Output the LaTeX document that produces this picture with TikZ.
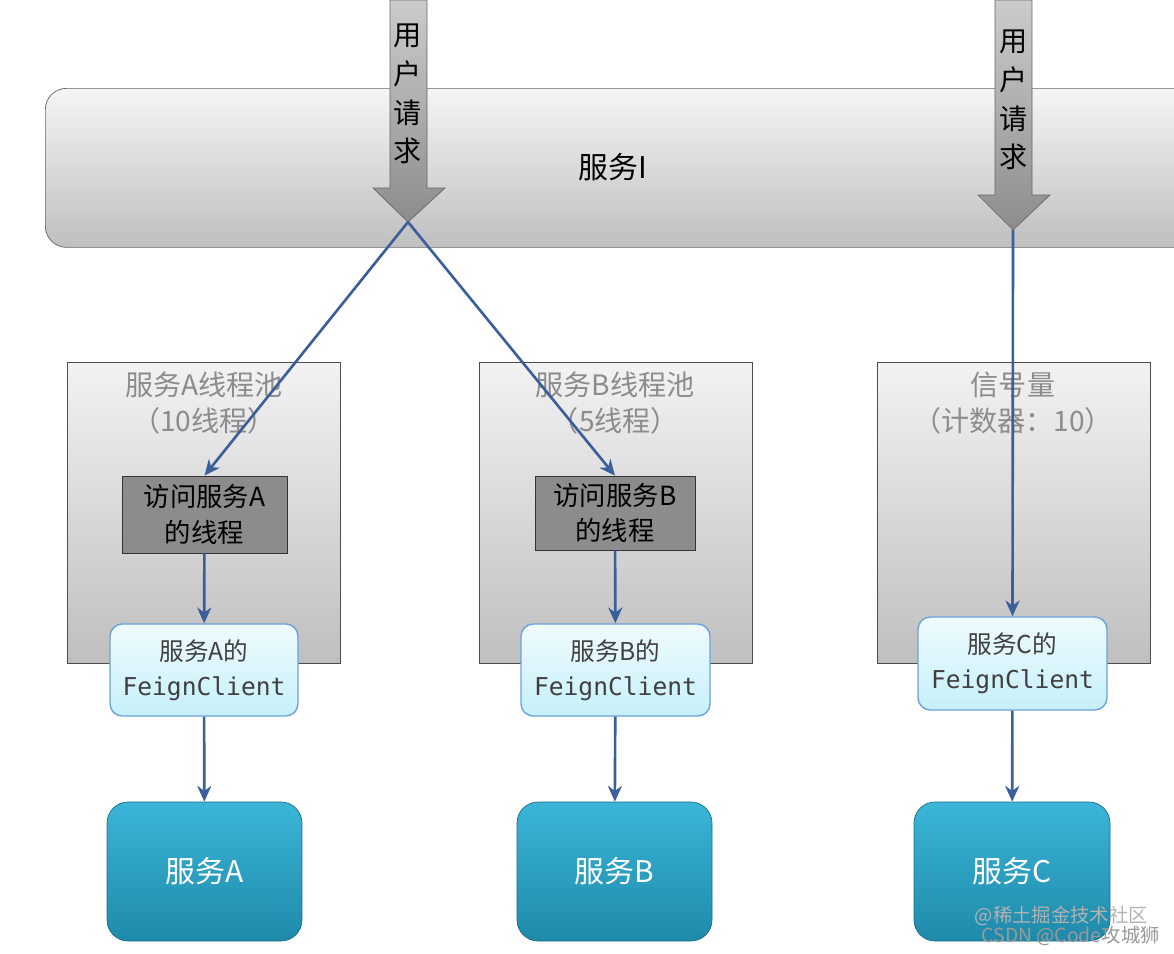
\documentclass[tikz,border=0pt]{standalone}
\usepackage{fontspec}
\setmainfont{Noto Sans CJK SC}
\newfontfamily\monof{DejaVu Sans Mono}
\usetikzlibrary{arrows.meta}
\definecolor{ln}{HTML}{3A5F9A}
\definecolor{tealA}{HTML}{3BB5D8}
\definecolor{tealB}{HTML}{1E8AAA}
\definecolor{fcA}{HTML}{EFFBFE}
\definecolor{fcB}{HTML}{C6F0FA}
\begin{document}
\begin{tikzpicture}[x=0.02cm,y=-0.02cm,
 pool/.style={draw=black!70,top color=black!5,bottom color=black!25},
 thr/.style={draw=black!80,fill=black!45,inner sep=0},
 feign/.style={draw=cyan!60!blue!60,rounded corners=7pt,top color=fcA,bottom color=fcB,line width=0.8pt},
 svc/.style={rounded corners=12pt,top color=tealA,bottom color=tealB,draw=tealB!80!black},
 conn/.style={draw=ln,line width=1.5pt,-{Stealth[length=9pt,width=8pt]}},
 bigarr/.style={draw=black!60,top color=black!20,bottom color=black!45}]
\useasboundingbox (0,0) rectangle (1174,954);
\begin{scope}
\clip (0,0) rectangle (1174,954);
\node[draw=black!60,rounded corners=12pt,top color=black!4,bottom color=black!25,minimum width=1200*0.02cm,minimum height=159*0.02cm,anchor=north west,inner sep=0] (bar) at (45,88) {};
\end{scope}
\node[font=\fontsize{17}{20}\selectfont] (barT) at (613,167) {服务I};
% pools
\foreach \n/\x in {pA/67,pB/479,pC/877}{
 \node[pool,anchor=north west,minimum width=273*0.02cm,minimum height=301*0.02cm,inner sep=0] (\n) at (\x,362) {};}
\node[text=black!45,align=center,font=\fontsize{16}{21}\selectfont] (tA) at (204,403) {服务A线程池\\（10线程）};
\node[text=black!45,align=center,font=\fontsize{16}{21}\selectfont] (tB) at (615,403) {服务B线程池\\（5线程）};
\node[text=black!45,align=center,font=\fontsize{16}{21}\selectfont] (tC) at (1013,403) {信号量\\（计数器：10）};
% threads
\node[thr,minimum width=165*0.02cm,minimum height=77*0.02cm,align=center,font=\fontsize{15}{20}\selectfont] (hA) at (204.5,514.5) {访问服务A\\的线程};
\node[thr,minimum width=160*0.02cm,minimum height=74*0.02cm,align=center,font=\fontsize{15}{20}\selectfont] (hB) at (615,513) {访问服务B\\的线程};
% feign
\node[feign,minimum width=188*0.02cm,minimum height=92*0.02cm,align=center,font=\fontsize{14}{20}\selectfont,text=black!75] (fA) at (204,670) {服务A的\\{\monof FeignClient}};
\node[feign,minimum width=189*0.02cm,minimum height=92*0.02cm,align=center,font=\fontsize{14}{20}\selectfont,text=black!75] (fB) at (615.5,670) {服务B的\\{\monof FeignClient}};
\node[feign,minimum width=189*0.02cm,minimum height=93*0.02cm,align=center,font=\fontsize{14}{20}\selectfont,text=black!75] (fC) at (1012.5,663.5) {服务C的\\{\monof FeignClient}};
% services
\node[svc,minimum width=195*0.02cm,minimum height=139*0.02cm,text=white,font=\fontsize{17}{20}\selectfont] (sA) at (204.5,871.5) {服务A};
\node[svc,minimum width=195*0.02cm,minimum height=139*0.02cm,text=white,font=\fontsize{17}{20}\selectfont] (sB) at (614.5,871.5) {服务B};
\node[svc,minimum width=196*0.02cm,minimum height=139*0.02cm,text=white,font=\fontsize{17}{20}\selectfont] (sC) at (1012,871.5) {服务C};
% big arrows
\draw[bigarr] (390,0) -- (427,0) -- (427,188) -- (445,188) -- (408,222) -- (373,188) -- (390,188) -- cycle;
\draw[bigarr] (995,0) -- (1032,0) -- (1032,195) -- (1050,195) -- (1013,230) -- (978,195) -- (995,195) -- cycle;
\coordinate (t1) at (408,222);
\coordinate (t2) at (1013,230);
\node[align=center,font=\fontsize{16}{22}\selectfont,inner sep=0] (u1) at (408,94) {用\\户\\请\\求};
\node[align=center,font=\fontsize{16}{22}\selectfont,inner sep=0] (u2) at (1014,100) {用\\户\\请\\求};
% connectors
\draw[conn] (t1) -- (hA.north);
\draw[conn] (t1) -- (hB.north);
\draw[conn] (t2) -- (fC.north);
\draw[conn] (hA) -- (fA);
\draw[conn] (hB) -- (fB);
\draw[conn] (fA) -- (sA);
\draw[conn] (fB) -- (sB);
\draw[conn] (fC) -- (sC);
% watermark
\node[text=black!30,font=\fontsize{11}{12}\selectfont,anchor=east,inner sep=0] (w1) at (1148,916) {@稀土掘金技术社区};
\node[text=black!40,font=\fontsize{11}{12}\selectfont,anchor=east,inner sep=0] (w2) at (1160,936) {CSDN @Code攻城狮};
\end{tikzpicture}
\end{document}
